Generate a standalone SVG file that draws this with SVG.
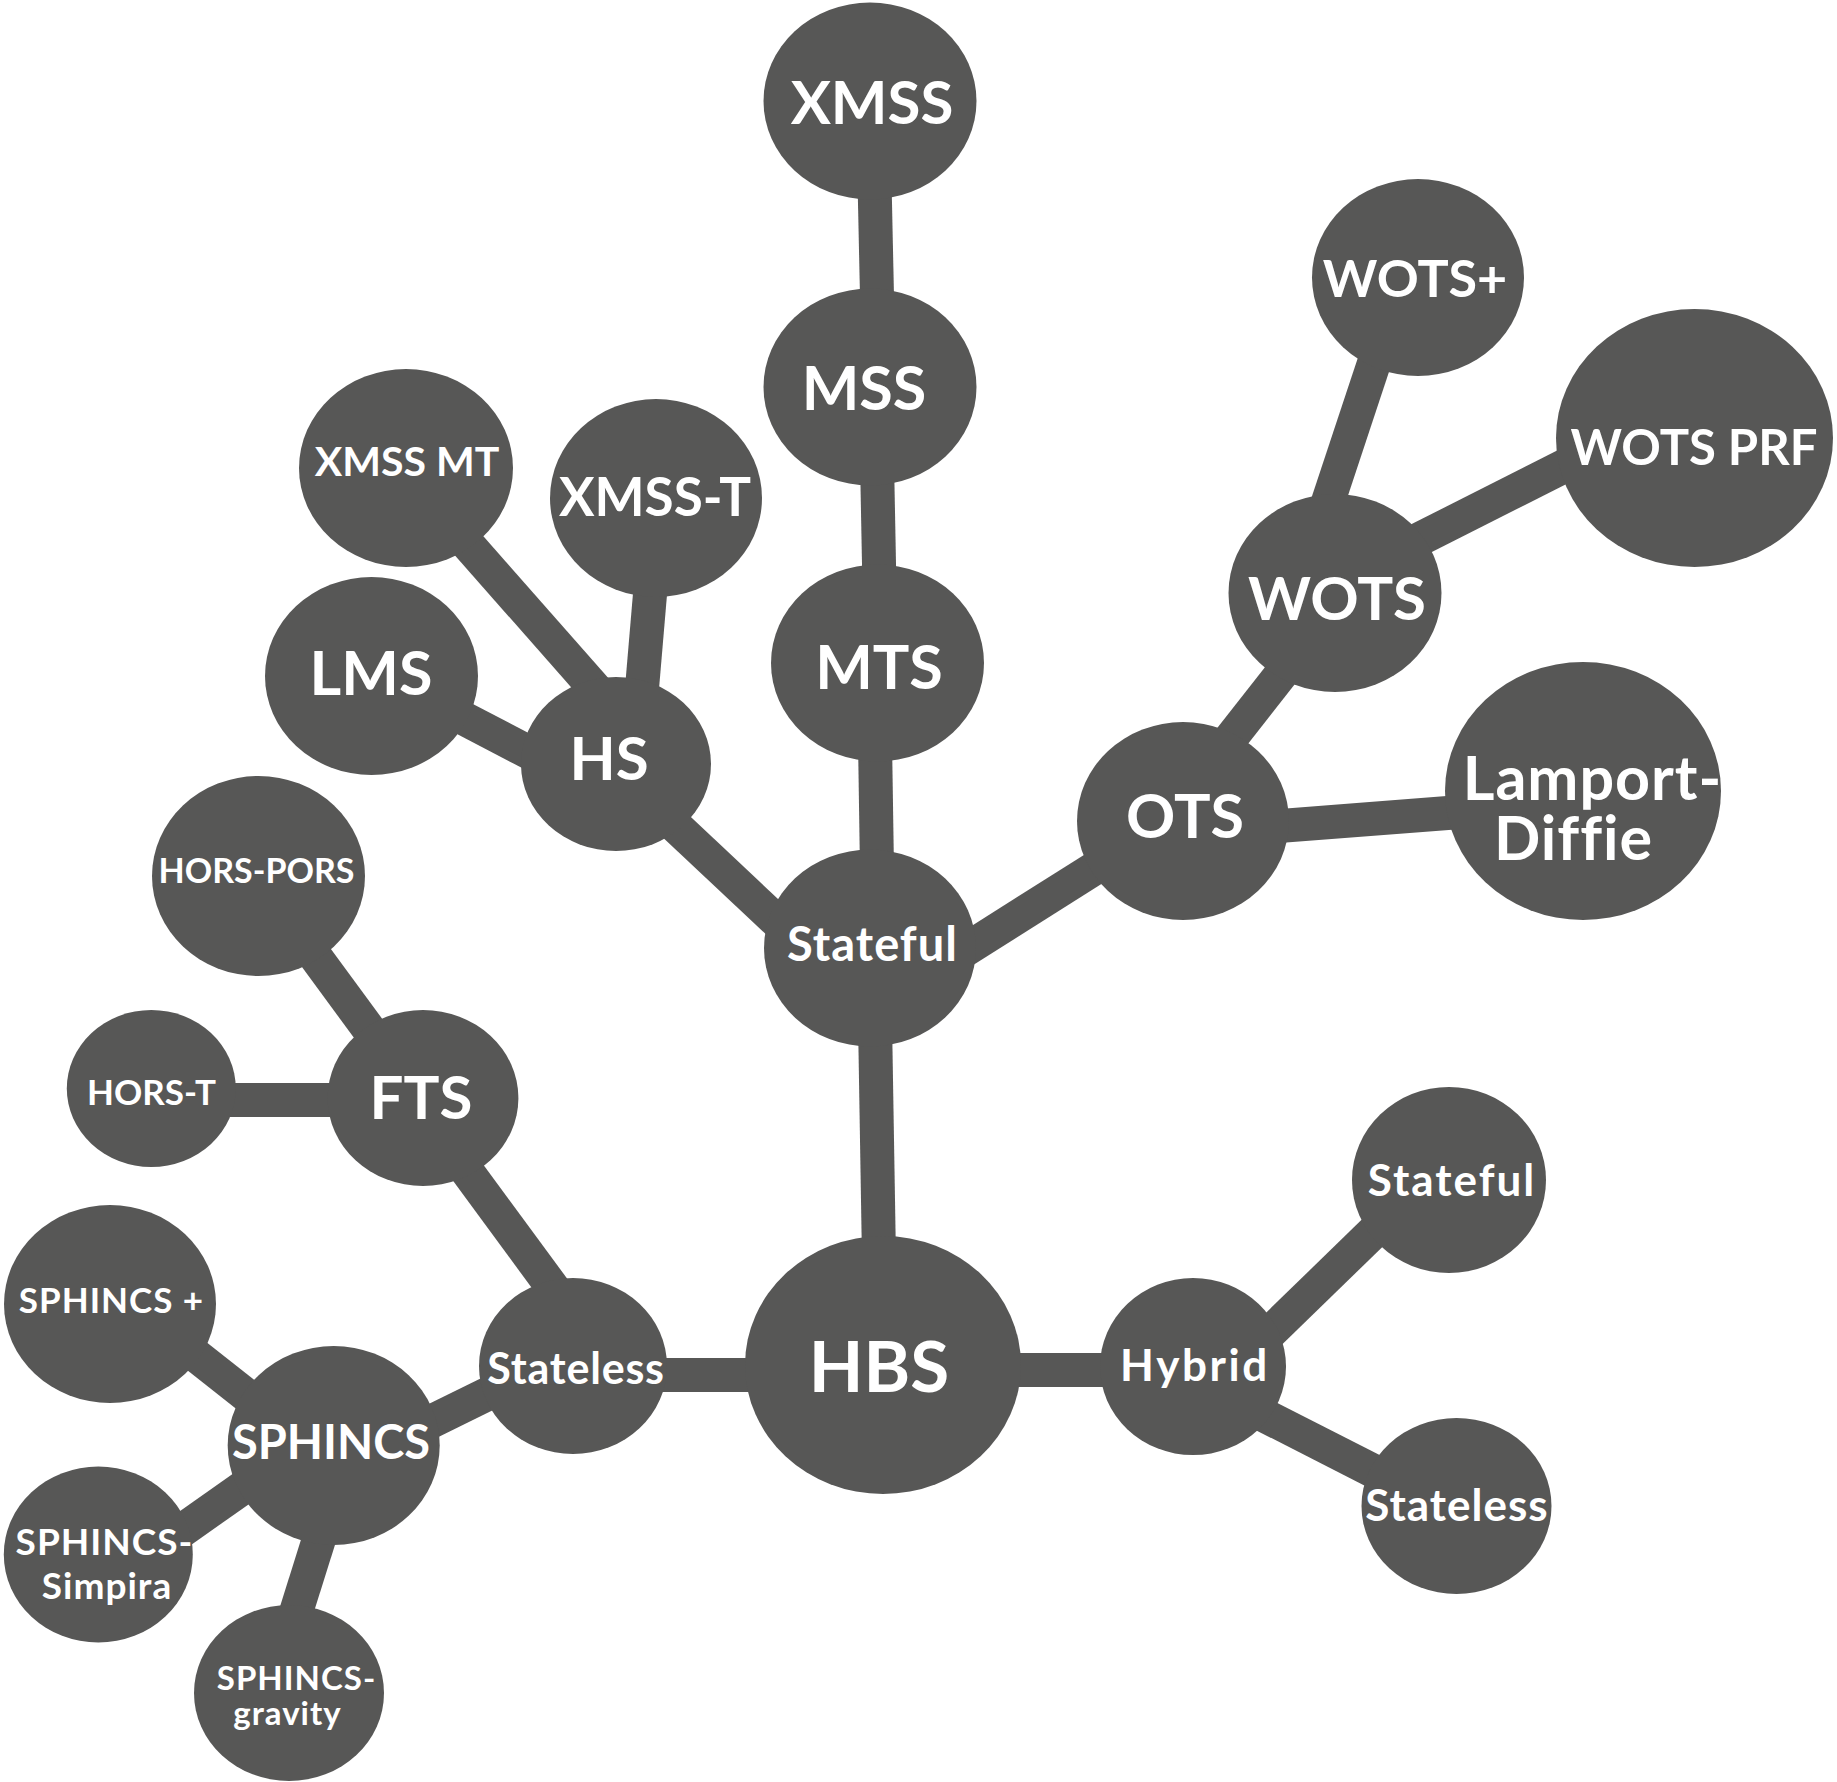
<svg xmlns="http://www.w3.org/2000/svg" width="1837" height="1782" viewBox="0 0 1837 1782">
<style>
.n{fill:#575756}
.c line{stroke:#575756;stroke-width:34;stroke-linecap:butt}
text{fill:#fff;font-family:Lato,"Liberation Sans",sans-serif;font-weight:700;text-anchor:middle}
</style>
<rect width="1837" height="1782" fill="#fff"/>
<g id="connectors" class="c">
<line x1="874.5" y1="180" x2="877.5" y2="320"/>
<line x1="877" y1="460" x2="879.5" y2="590"/>
<line x1="875" y1="740" x2="877" y2="870"/>
<line x1="875" y1="1020" x2="879" y2="1260"/>
<line x1="940" y1="966" x2="1122" y2="851"/>
<line x1="1220" y1="752" x2="1300" y2="650"/>
<line x1="1380" y1="345" x2="1322" y2="520"/>
<line x1="1400" y1="549" x2="1590" y2="453"/>
<line x1="1260" y1="827.5" x2="1480" y2="810.5"/>
<line x1="650" y1="802" x2="800" y2="943"/>
<line x1="440" y1="706" x2="555" y2="766"/>
<line x1="420" y1="490" x2="605" y2="700"/>
<line x1="658" y1="500" x2="641" y2="700"/>
<line x1="290" y1="922" x2="395" y2="1065"/>
<line x1="200" y1="1100" x2="360" y2="1100"/>
<line x1="450" y1="1148" x2="575" y2="1318"/>
<line x1="600" y1="1375" x2="800" y2="1375"/>
<line x1="950" y1="1370" x2="1150" y2="1370"/>
<line x1="400" y1="1437" x2="520" y2="1378"/>
<line x1="170" y1="1335" x2="270" y2="1414"/>
<line x1="265" y1="1472" x2="160" y2="1546"/>
<line x1="325" y1="1520" x2="292" y2="1625"/>
<line x1="1250" y1="1352" x2="1395" y2="1211"/>
<line x1="1240" y1="1403" x2="1395" y2="1482"/>
</g>
<g id="n-xmss"><ellipse class="n" cx="870" cy="101" rx="106.5" ry="98.5"/><text x="872" y="124" font-size="60">XMSS</text></g>
<g id="n-mss"><ellipse class="n" cx="870" cy="387" rx="106.5" ry="98.5"/><text x="864" y="410" font-size="61">MSS</text></g>
<g id="n-mts"><ellipse class="n" cx="877.5" cy="663" rx="106.5" ry="98.5"/><text x="879" y="689" font-size="61">MTS</text></g>
<g id="n-stateful"><ellipse class="n" cx="870" cy="948" rx="106" ry="98.5"/><text x="872.5" y="961" font-size="47" letter-spacing="1">Stateful</text></g>
<g id="n-hbs"><ellipse class="n" cx="883" cy="1365" rx="138" ry="129"/><text x="879" y="1392" font-size="71">HBS</text></g>
<g id="n-ots"><ellipse class="n" cx="1183" cy="821" rx="106" ry="99"/><text x="1185" y="838" font-size="61">OTS</text></g>
<g id="n-wots"><ellipse class="n" cx="1335" cy="593" rx="106.5" ry="99"/><text x="1337" y="620" font-size="60">WOTS</text></g>
<g id="n-wotsplus"><ellipse class="n" cx="1418" cy="277.5" rx="106" ry="98.5"/><text x="1415" y="297" font-size="52">WOTS+</text></g>
<g id="n-wotsprf"><ellipse class="n" cx="1694.5" cy="438" rx="138.5" ry="129"/><text x="1694" y="465" font-size="49">WOTS PRF</text></g>
<g id="n-lamport"><ellipse class="n" cx="1583" cy="791" rx="138" ry="129"/><text x="1592.5" y="800" font-size="61" letter-spacing="1">Lamport-</text><text x="1573.5" y="860" font-size="61" letter-spacing="1">Diffie</text></g>
<g id="n-hs"><ellipse class="n" cx="616" cy="764" rx="95" ry="87"/><text x="609" y="780" font-size="60">HS</text></g>
<g id="n-xmssmt"><ellipse class="n" cx="406" cy="468" rx="107" ry="99"/><text x="407" y="476" font-size="41">XMSS MT</text></g>
<g id="n-xmsst"><ellipse class="n" cx="656" cy="498" rx="106" ry="99"/><text x="655" y="516" font-size="53">XMSS-T</text></g>
<g id="n-lms"><ellipse class="n" cx="371.5" cy="676" rx="106.5" ry="99"/><text x="371" y="695" font-size="61">LMS</text></g>
<g id="n-horspors"><ellipse class="n" cx="258.5" cy="876" rx="106.5" ry="100"/><text x="256.5" y="883" font-size="34">HORS-PORS</text></g>
<g id="n-horst"><ellipse class="n" cx="151.3" cy="1088.5" rx="84.5" ry="78.5"/><text x="151.5" y="1105" font-size="35">HORS-T</text></g>
<g id="n-fts"><ellipse class="n" cx="423" cy="1098" rx="95.4" ry="88"/><text x="421" y="1119" font-size="60">FTS</text></g>
<g id="n-stateless"><ellipse class="n" cx="573" cy="1366" rx="94" ry="88"/><text x="576" y="1384" font-size="43" letter-spacing="0.8">Stateless</text></g>
<g id="n-sphincs"><ellipse class="n" cx="333.7" cy="1445.5" rx="106" ry="99.5"/><text x="331" y="1459" font-size="47">SPHINCS</text></g>
<g id="n-sphincsplus"><ellipse class="n" cx="110" cy="1304" rx="106" ry="99"/><text x="111.5" y="1313" font-size="35" letter-spacing="1">SPHINCS +</text></g>
<g id="n-simpira"><ellipse class="n" cx="98.3" cy="1554.5" rx="94.5" ry="88"/><text x="104.5" y="1555" font-size="37" letter-spacing="1">SPHINCS-</text><text x="107" y="1599" font-size="37" letter-spacing="1">Simpira</text></g>
<g id="n-gravity"><ellipse class="n" cx="289" cy="1693" rx="95" ry="88"/><text x="296.5" y="1690" font-size="33" letter-spacing="1">SPHINCS-</text><text x="287.5" y="1725" font-size="33" letter-spacing="1">gravity</text></g>
<g id="n-hybrid"><ellipse class="n" cx="1193" cy="1366.6" rx="93" ry="88.5"/><text x="1195" y="1381" font-size="44" letter-spacing="2.6">Hybrid</text></g>
<g id="n-stateful2"><ellipse class="n" cx="1449" cy="1180" rx="97" ry="93"/><text x="1452" y="1196" font-size="44" letter-spacing="2">Stateful</text></g>
<g id="n-stateless2"><ellipse class="n" cx="1456.5" cy="1506" rx="95" ry="88"/><text x="1457" y="1521" font-size="44" letter-spacing="1">Stateless</text></g>
</svg>
